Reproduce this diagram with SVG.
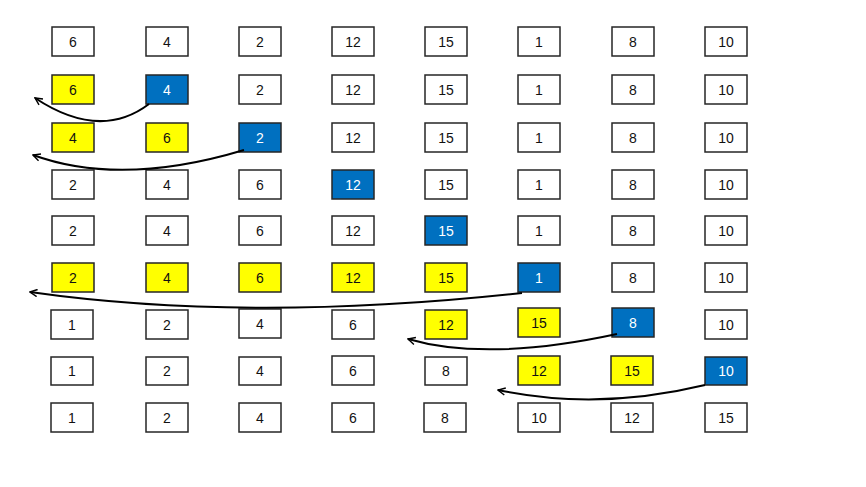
<svg xmlns="http://www.w3.org/2000/svg" width="866" height="487" viewBox="0 0 866 487">
<defs>
<style>
g rect{stroke:#262626;stroke-width:1.5;}
.w rect{fill:#fff;}
.y rect{fill:#ffff00;}
.b rect{fill:#0070c0;}
text{font-family:"Liberation Sans",Arial,sans-serif;font-size:14px;text-anchor:middle;fill:#111;}
.b text{fill:#fff;}
.c{fill:none;stroke:#000;stroke-width:2;}
</style>
<marker id="ah" viewBox="0 0 10 10" refX="9" refY="5" markerWidth="9" markerHeight="9" markerUnits="userSpaceOnUse" orient="auto">
<path d="M1,1 L9,5 L1,9" fill="none" stroke="#000" stroke-width="1.6"/>
</marker>
</defs>
<rect width="866" height="487" fill="#fff"/>
<!-- row 0 -->
<g id="r0c0" class="w"><rect x="52" y="27" width="42" height="29"/><text x="73" y="46.5">6</text></g>
<g id="r0c1" class="w"><rect x="146" y="27" width="42" height="29"/><text x="167" y="46.5">4</text></g>
<g id="r0c2" class="w"><rect x="239" y="27" width="42" height="29"/><text x="260" y="46.5">2</text></g>
<g id="r0c3" class="w"><rect x="332" y="27" width="42" height="29"/><text x="353" y="46.5">12</text></g>
<g id="r0c4" class="w"><rect x="425" y="27" width="42" height="29"/><text x="446" y="46.5">15</text></g>
<g id="r0c5" class="w"><rect x="518" y="27" width="42" height="29"/><text x="539" y="46.5">1</text></g>
<g id="r0c6" class="w"><rect x="612" y="27" width="42" height="29"/><text x="633" y="46.5">8</text></g>
<g id="r0c7" class="w"><rect x="705" y="27" width="42" height="29"/><text x="726" y="46.5">10</text></g>
<!-- row 1 -->
<g id="r1c0" class="y"><rect x="52" y="75" width="42" height="29"/><text x="73" y="94.5">6</text></g>
<g id="r1c1" class="b"><rect x="146" y="75" width="42" height="29"/><text x="167" y="94.5">4</text></g>
<g id="r1c2" class="w"><rect x="239" y="75" width="42" height="29"/><text x="260" y="94.5">2</text></g>
<g id="r1c3" class="w"><rect x="332" y="75" width="42" height="29"/><text x="353" y="94.5">12</text></g>
<g id="r1c4" class="w"><rect x="425" y="75" width="42" height="29"/><text x="446" y="94.5">15</text></g>
<g id="r1c5" class="w"><rect x="518" y="75" width="42" height="29"/><text x="539" y="94.5">1</text></g>
<g id="r1c6" class="w"><rect x="612" y="75" width="42" height="29"/><text x="633" y="94.5">8</text></g>
<g id="r1c7" class="w"><rect x="705" y="75" width="42" height="29"/><text x="726" y="94.5">10</text></g>
<!-- row 2 -->
<g id="r2c0" class="y"><rect x="52" y="123" width="42" height="29"/><text x="73" y="142.5">4</text></g>
<g id="r2c1" class="y"><rect x="146" y="123" width="42" height="29"/><text x="167" y="142.5">6</text></g>
<g id="r2c2" class="b"><rect x="239" y="123" width="42" height="29"/><text x="260" y="142.5">2</text></g>
<g id="r2c3" class="w"><rect x="332" y="123" width="42" height="29"/><text x="353" y="142.5">12</text></g>
<g id="r2c4" class="w"><rect x="425" y="123" width="42" height="29"/><text x="446" y="142.5">15</text></g>
<g id="r2c5" class="w"><rect x="518" y="123" width="42" height="29"/><text x="539" y="142.5">1</text></g>
<g id="r2c6" class="w"><rect x="612" y="123" width="42" height="29"/><text x="633" y="142.5">8</text></g>
<g id="r2c7" class="w"><rect x="705" y="123" width="42" height="29"/><text x="726" y="142.5">10</text></g>
<!-- row 3 -->
<g id="r3c0" class="w"><rect x="52" y="170" width="42" height="29"/><text x="73" y="189.5">2</text></g>
<g id="r3c1" class="w"><rect x="146" y="170" width="42" height="29"/><text x="167" y="189.5">4</text></g>
<g id="r3c2" class="w"><rect x="239" y="170" width="42" height="29"/><text x="260" y="189.5">6</text></g>
<g id="r3c3" class="b"><rect x="332" y="170" width="42" height="29"/><text x="353" y="189.5">12</text></g>
<g id="r3c4" class="w"><rect x="425" y="170" width="42" height="29"/><text x="446" y="189.5">15</text></g>
<g id="r3c5" class="w"><rect x="518" y="170" width="42" height="29"/><text x="539" y="189.5">1</text></g>
<g id="r3c6" class="w"><rect x="612" y="170" width="42" height="29"/><text x="633" y="189.5">8</text></g>
<g id="r3c7" class="w"><rect x="705" y="170" width="42" height="29"/><text x="726" y="189.5">10</text></g>
<!-- row 4 -->
<g id="r4c0" class="w"><rect x="52" y="216" width="42" height="29"/><text x="73" y="235.5">2</text></g>
<g id="r4c1" class="w"><rect x="146" y="216" width="42" height="29"/><text x="167" y="235.5">4</text></g>
<g id="r4c2" class="w"><rect x="239" y="216" width="42" height="29"/><text x="260" y="235.5">6</text></g>
<g id="r4c3" class="w"><rect x="332" y="216" width="42" height="29"/><text x="353" y="235.5">12</text></g>
<g id="r4c4" class="b"><rect x="425" y="216" width="42" height="29"/><text x="446" y="235.5">15</text></g>
<g id="r4c5" class="w"><rect x="518" y="216" width="42" height="29"/><text x="539" y="235.5">1</text></g>
<g id="r4c6" class="w"><rect x="612" y="216" width="42" height="29"/><text x="633" y="235.5">8</text></g>
<g id="r4c7" class="w"><rect x="705" y="216" width="42" height="29"/><text x="726" y="235.5">10</text></g>
<!-- row 5 -->
<g id="r5c0" class="y"><rect x="52" y="263" width="42" height="29"/><text x="73" y="282.5">2</text></g>
<g id="r5c1" class="y"><rect x="146" y="263" width="42" height="29"/><text x="167" y="282.5">4</text></g>
<g id="r5c2" class="y"><rect x="239" y="263" width="42" height="29"/><text x="260" y="282.5">6</text></g>
<g id="r5c3" class="y"><rect x="332" y="263" width="42" height="29"/><text x="353" y="282.5">12</text></g>
<g id="r5c4" class="y"><rect x="425" y="263" width="42" height="29"/><text x="446" y="282.5">15</text></g>
<g id="r5c5" class="b"><rect x="518" y="263" width="42" height="29"/><text x="539" y="282.5">1</text></g>
<g id="r5c6" class="w"><rect x="612" y="263" width="42" height="29"/><text x="633" y="282.5">8</text></g>
<g id="r5c7" class="w"><rect x="705" y="263" width="42" height="29"/><text x="726" y="282.5">10</text></g>
<!-- row 6 -->
<g id="r6c0" class="w"><rect x="51" y="310" width="42" height="29"/><text x="72" y="329.5">1</text></g>
<g id="r6c1" class="w"><rect x="146" y="310" width="42" height="29"/><text x="167" y="329.5">2</text></g>
<g id="r6c2" class="w"><rect x="239" y="309" width="42" height="29"/><text x="260" y="328.5">4</text></g>
<g id="r6c3" class="w"><rect x="332" y="310" width="42" height="29"/><text x="353" y="329.5">6</text></g>
<g id="r6c4" class="y"><rect x="425" y="310" width="42" height="29"/><text x="446" y="329.5">12</text></g>
<g id="r6c5" class="y"><rect x="518" y="308" width="42" height="29"/><text x="539" y="327.5">15</text></g>
<g id="r6c6" class="b"><rect x="612" y="308" width="42" height="29"/><text x="633" y="327.5">8</text></g>
<g id="r6c7" class="w"><rect x="705" y="310" width="42" height="29"/><text x="726" y="329.5">10</text></g>
<!-- row 7 -->
<g id="r7c0" class="w"><rect x="51" y="357" width="42" height="28"/><text x="72" y="376">1</text></g>
<g id="r7c1" class="w"><rect x="146" y="357" width="42" height="28"/><text x="167" y="376">2</text></g>
<g id="r7c2" class="w"><rect x="239" y="357" width="42" height="28"/><text x="260" y="376">4</text></g>
<g id="r7c3" class="w"><rect x="332" y="356" width="42" height="29"/><text x="353" y="375.5">6</text></g>
<g id="r7c4" class="w"><rect x="425" y="357" width="42" height="28"/><text x="446" y="376">8</text></g>
<g id="r7c5" class="y"><rect x="518" y="356" width="42" height="29"/><text x="539" y="375.5">12</text></g>
<g id="r7c6" class="y"><rect x="611" y="356" width="42" height="29"/><text x="632" y="375.5">15</text></g>
<g id="r7c7" class="b"><rect x="705" y="357" width="42" height="28"/><text x="726" y="376">10</text></g>
<!-- row 8 -->
<g id="r8c0" class="w"><rect x="51" y="403" width="42" height="29"/><text x="72" y="422.5">1</text></g>
<g id="r8c1" class="w"><rect x="146" y="403" width="42" height="29"/><text x="167" y="422.5">2</text></g>
<g id="r8c2" class="w"><rect x="239" y="403" width="42" height="29"/><text x="260" y="422.5">4</text></g>
<g id="r8c3" class="w"><rect x="332" y="403" width="42" height="29"/><text x="353" y="422.5">6</text></g>
<g id="r8c4" class="w"><rect x="424" y="403" width="42" height="29"/><text x="445" y="422.5">8</text></g>
<g id="r8c5" class="w"><rect x="518" y="403" width="42" height="29"/><text x="539" y="422.5">10</text></g>
<g id="r8c6" class="w"><rect x="611" y="403" width="42" height="29"/><text x="632" y="422.5">12</text></g>
<g id="r8c7" class="w"><rect x="705" y="403" width="42" height="29"/><text x="726" y="422.5">15</text></g>
<g id="connectors">
<path class="c" marker-end="url(#ah)" d="M149,104 Q100,141 35,98"/>
<path class="c" marker-end="url(#ah)" d="M244,150 Q121,187 33,155"/>
<path class="c" marker-end="url(#ah)" d="M522,293 Q248,323 30,292"/>
<path class="c" marker-end="url(#ah)" d="M617,334 Q487,362 408,339"/>
<path class="c" marker-end="url(#ah)" d="M705,385 Q598,411 498,390"/>
</g>
</svg>
